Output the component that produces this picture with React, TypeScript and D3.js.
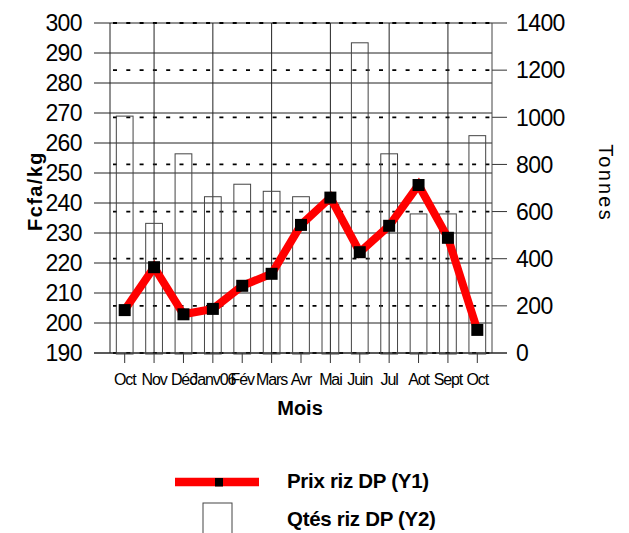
import React from 'react';
import * as d3 from 'd3';

const months = ['Oct', 'Nov', 'Déc', 'Janv06', 'Fév', 'Mars', 'Avr', 'Mai', 'Juin', 'Jul', 'Aot', 'Sept', 'Oct'];
const prix = [204.3, 218.6, 202.9, 204.7, 212.4, 216.4, 232.7, 241.8, 223.6, 232.4, 246.0, 228.4, 197.7];
const qtes = [1005, 550, 845, 663, 716, 686, 663, 630, 1316, 845, 590, 590, 922];
const y1Ticks = [190, 200, 210, 220, 230, 240, 250, 260, 270, 280, 290, 300];
const y2Ticks = [0, 200, 400, 600, 800, 1000, 1200, 1400];
const legendLabels = ['Prix riz DP (Y1)', 'Qtés riz DP (Y2)'];

const W = 629;
const H = 533;
const L = 110;
const R = 492;
const T = 23;
const B = 353;
const FONT = "'Liberation Sans', Arial, Helvetica, sans-serif";

export default function App() {
  const idx = months.map((_, i) => i);
  const x = d3.scalePoint<number>().domain(idx).range([L, R]).padding(0.5);
  const step = x.step();
  const barW = step * 0.57;
  const y1 = d3.scaleLinear().domain([190, 300]).range([B, T]);
  const y2 = d3.scaleLinear().domain([0, 1400]).range([B, T]);

  const line = d3
    .line<number>()
    .x((_, i) => x(i) as number)
    .y((d) => y1(d));

  const ms = 12;

  return (
    <svg
      width={W}
      height={H}
      style={{ position: 'absolute', left: 0, top: 0, background: '#fff' }}
      fontFamily={FONT}
    >
      <rect x={0} y={0} width={W} height={H} fill="#fff" />
      {/* solid horizontal gridlines (Y1) */}
      {y1Ticks.map((t) => (
        <line key={'g1' + t} x1={L - 16} x2={R} y1={y1(t)} y2={y1(t)} stroke="#222" strokeWidth={1} />
      ))}
      {/* dotted gridlines (Y2) */}
      {y2Ticks.map((t) => (
        <g key={'g2' + t}>
          <line
            x1={L}
            x2={R}
            y1={y2(t)}
            y2={y2(t)}
            stroke="#000"
            strokeWidth={1.8}
            strokeDasharray="4,9.3"
            strokeDashoffset={-3}
          />
          <line x1={R} x2={R + 15} y1={y2(t)} y2={y2(t)} stroke="#333" strokeWidth={1} />
        </g>
      ))}
      {/* vertical gridlines at every other category */}
      {idx
        .filter((i) => i % 2 === 1)
        .map((i) => (
          <line key={'v' + i} x1={x(i)} x2={x(i)} y1={T} y2={B} stroke="#222" strokeWidth={1} />
        ))}
      <line x1={L} x2={L} y1={T} y2={B} stroke="#222" strokeWidth={1} />
      <line x1={R} x2={R} y1={T} y2={B} stroke="#444" strokeWidth={1} />
      {/* category ticks */}
      {idx.map((i) => (
        <line key={'t' + i} x1={x(i)} x2={x(i)} y1={B} y2={B + 10} stroke="#333" strokeWidth={1} />
      ))}
      <line x1={L - 16} x2={R + 15} y1={B} y2={B} stroke="#222" strokeWidth={1} />
      {/* bars */}
      {qtes.map((v, i) => (
        <rect
          key={'b' + i}
          x={(x(i) as number) - barW / 2}
          y={y2(v)}
          width={barW}
          height={y2(0) + 1 - y2(v)}
          fill="none"
          stroke="#444"
          strokeWidth={1}
        />
      ))}
      {/* price line */}
      <path d={line(prix) || ''} fill="none" stroke="#ff0000" strokeWidth={8} strokeLinejoin="miter" />
      {prix.map((v, i) => (
        <rect key={'m' + i} x={(x(i) as number) - ms / 2} y={y1(v) - ms / 2} width={ms} height={ms} fill="#000" />
      ))}
      {/* left tick labels */}
      {y1Ticks.map((t) => (
        <text key={'l' + t} x={82} y={y1(t)} dy="0.36em" textAnchor="end" fontSize={23} letterSpacing={-0.6} fill="#000">
          {t}
        </text>
      ))}
      {/* right tick labels */}
      {y2Ticks.map((t) => (
        <text key={'r' + t} x={516} y={y2(t)} dy="0.36em" textAnchor="start" fontSize={23} letterSpacing={-0.6} fill="#000">
          {t}
        </text>
      ))}
      {/* category labels */}
      {months.map((m, i) => (
        <text key={'c' + i} x={x(i)} y={385} textAnchor="middle" fontSize={16} letterSpacing={-1.1} fill="#000">
          {m}
        </text>
      ))}
      {/* axis titles */}
      <text x={300} y={415} textAnchor="middle" fontSize={20} fontWeight="bold" fill="#000">
        Mois
      </text>
      <text
        transform="translate(42,191) rotate(-90)"
        textAnchor="middle"
        fontSize={20}
        fontWeight="bold"
        letterSpacing={1.4}
        fill="#000"
      >
        Fcfa/kg
      </text>
      <text
        transform="translate(599,183) rotate(90)"
        textAnchor="middle"
        fontSize={20}
        letterSpacing={2.2}
        fill="#000"
      >
        Tonnes
      </text>
      {/* legend */}
      <line x1={175} x2={259} y1={482} y2={482} stroke="#ff0000" strokeWidth={8.5} />
      <rect x={215} y={478} width={8} height={8.5} fill="#000" />
      <text x={287} y={488} fontSize={20.5} fontWeight="bold" letterSpacing={-0.3} fill="#000">
        {legendLabels[0]}
      </text>
      <rect x={203} y={503} width={29} height={40} fill="none" stroke="#444" strokeWidth={1} />
      <text x={287} y={526} fontSize={20.5} fontWeight="bold" letterSpacing={-0.3} fill="#000">
        {legendLabels[1]}
      </text>
    </svg>
  );
}
